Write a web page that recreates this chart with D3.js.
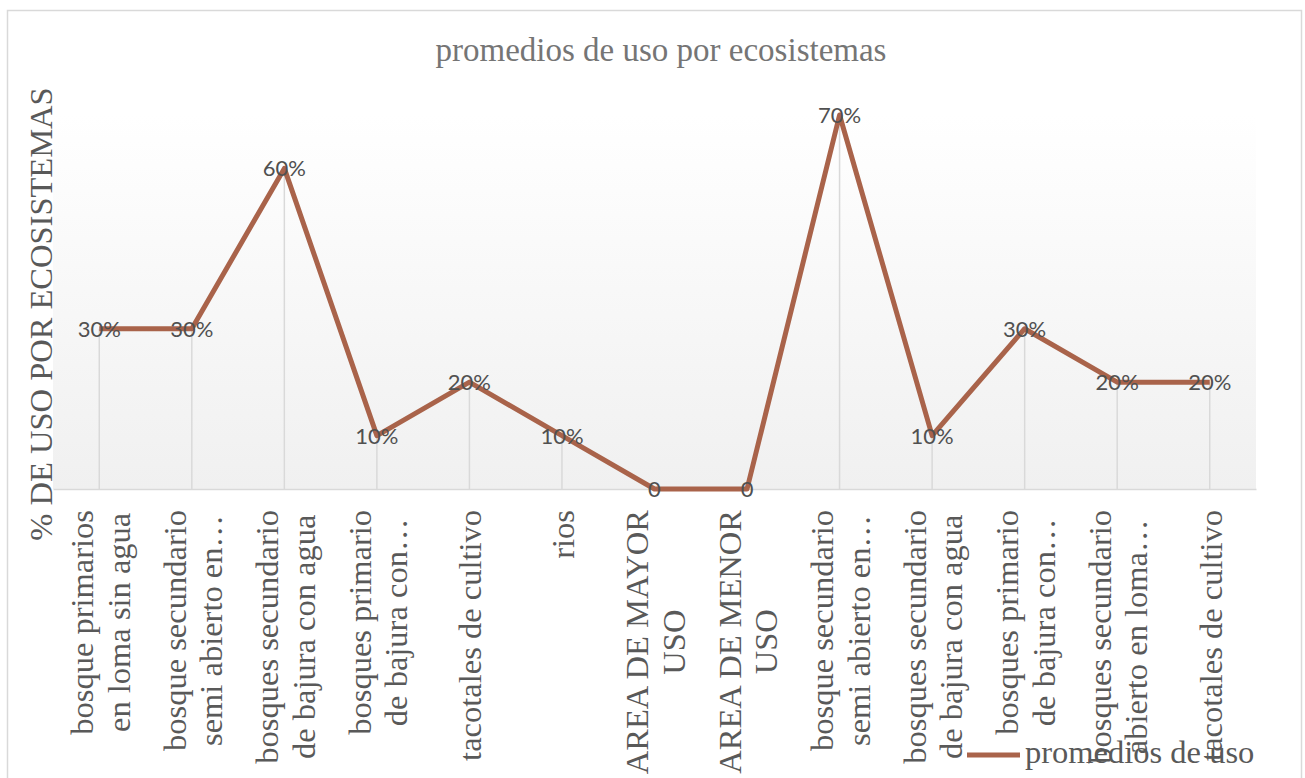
<!DOCTYPE html>
<html>
<head>
<meta charset="utf-8">
<script src="https://cdn.jsdelivr.net/npm/d3@7"></script>
<style>
  html, body { margin: 0; padding: 0; background: #ffffff; }
  svg { display: block; }
</style>
</head>
<body>
<svg id="chart" width="1305" height="778"></svg>
<script>
// Ecosystem categories (wrapped label lines) and their average use
const categories = [
  ["bosque primarios", "en loma sin agua"],
  ["bosque secundario", "semi abierto en…"],
  ["bosques secundario", "de bajura con agua"],
  ["bosques primario", "de bajura con…"],
  ["tacotales de cultivo"],
  ["rios"],
  ["AREA DE MAYOR", "USO"],
  ["AREA DE MENOR", "USO"],
  ["bosque secundario", "semi abierto en…"],
  ["bosques secundario", "de bajura con agua"],
  ["bosques primario", "de bajura con…"],
  ["bosques secundario", "abierto en loma…"],
  ["tacotales de cultivo"]
];
const usoValues = [0.30, 0.30, 0.60, 0.10, 0.20, 0.10, 0, 0, 0.70, 0.10, 0.30, 0.20, 0.20];
const seriesName = "promedios de uso";
const chartTitle = "promedios de uso por ecosistemas";
const yTitle = "% DE USO POR ECOSISTEMAS";

const serif = "'Liberation Serif', 'Times New Roman', serif";
const sans = "Lato, 'Open Sans', sans-serif";
const lineColor = "#a9634a";
const gridColor = "#d9d9d9";
const textColor = "#595959";

const svg = d3.select("#chart");
const plot = { left: 53, right: 1256, top: 115, bottom: 489 };

// outer chart frame
svg.append("rect")
  .attr("x", 7.5).attr("y", 10.5)
  .attr("width", 1294).attr("height", 800)
  .attr("fill", "#ffffff").attr("stroke", gridColor).attr("stroke-width", 1.5);

// plot-area gradient
const defs = svg.append("defs");
const grad = defs.append("linearGradient").attr("id", "plotFill")
  .attr("x1", 0).attr("y1", 0).attr("x2", 0).attr("y2", 1);
grad.append("stop").attr("offset", "0%").attr("stop-color", "#ffffff");
grad.append("stop").attr("offset", "100%").attr("stop-color", "#f0f0f0");

svg.append("rect")
  .attr("x", plot.left).attr("y", plot.top)
  .attr("width", plot.right - plot.left).attr("height", plot.bottom - plot.top)
  .attr("fill", "url(#plotFill)");

const idx = d3.range(categories.length);
const x = d3.scaleBand().domain(idx).range([plot.left, plot.right]).paddingInner(0).paddingOuter(0);
const cx = i => x(i) + x.bandwidth() / 2;
const y = d3.scaleLinear().domain([0, 0.7]).range([plot.bottom, plot.top]);

// title
svg.append("text")
  .attr("x", 661).attr("y", 61)
  .attr("text-anchor", "middle")
  .attr("font-family", serif).attr("font-size", 33)
  .attr("fill", "#757575")
  .text(chartTitle);

// y-axis title
svg.append("text")
  .attr("transform", "translate(52,314) rotate(-90)")
  .attr("text-anchor", "middle")
  .attr("font-family", serif).attr("font-size", 32.5)
  .attr("fill", textColor)
  .text(yTitle);

// drop lines from each point to the category axis
svg.append("g").selectAll("line")
  .data(idx.filter(i => usoValues[i] > 0))
  .join("line")
  .attr("x1", i => cx(i)).attr("x2", i => cx(i))
  .attr("y1", i => y(usoValues[i])).attr("y2", y(0))
  .attr("stroke", gridColor).attr("stroke-width", 1.5);

// category axis line
const xAxis = d3.axisBottom(x).tickSize(0).tickFormat("");
const gx = svg.append("g").attr("transform", `translate(0,${plot.bottom})`).call(xAxis);
gx.select(".domain").attr("stroke", gridColor).attr("stroke-width", 1.5);

// series line
const line = d3.line().x(i => cx(i)).y(i => y(usoValues[i]));
svg.append("path")
  .datum(idx)
  .attr("d", line)
  .attr("fill", "none")
  .attr("stroke", lineColor)
  .attr("stroke-width", 5)
  .attr("stroke-linejoin", "round");

// data labels
const pct = d3.format(".0%");
svg.append("g").selectAll("text")
  .data(idx)
  .join("text")
  .attr("x", i => cx(i))
  .attr("y", i => y(usoValues[i]) + 8)
  .attr("text-anchor", "middle")
  .attr("font-family", sans).attr("font-size", 22)
  .attr("fill", "#505050")
  .text(i => usoValues[i] === 0 ? "0" : pct(usoValues[i]));

// rotated, centre-aligned category labels
const lineGap = 36.5;
const labels = svg.append("g");
idx.forEach(i => {
  const lines = categories[i];
  const g = labels.append("g")
    .attr("transform", `translate(${cx(i)},510) rotate(-90)`);
  const texts = lines.map((t, k) => g.append("text")
    .attr("font-family", serif).attr("font-size", 32.5)
    .attr("fill", textColor)
    .attr("text-anchor", "middle")
    .attr("y", 12 + (k - (lines.length - 1) / 2) * lineGap)
    .text(t));
  const blockW = d3.max(texts, t => t.node().getComputedTextLength());
  texts.forEach(t => t.attr("x", -blockW / 2));
});

// legend
const legend = svg.append("g");
legend.append("line")
  .attr("x1", 967).attr("x2", 1020).attr("y1", 755).attr("y2", 755)
  .attr("stroke", lineColor).attr("stroke-width", 5);
legend.append("text")
  .attr("x", 1025).attr("y", 763)
  .attr("font-family", serif).attr("font-size", 32.5)
  .attr("fill", textColor)
  .text(seriesName);
</script>
</body>
</html>
